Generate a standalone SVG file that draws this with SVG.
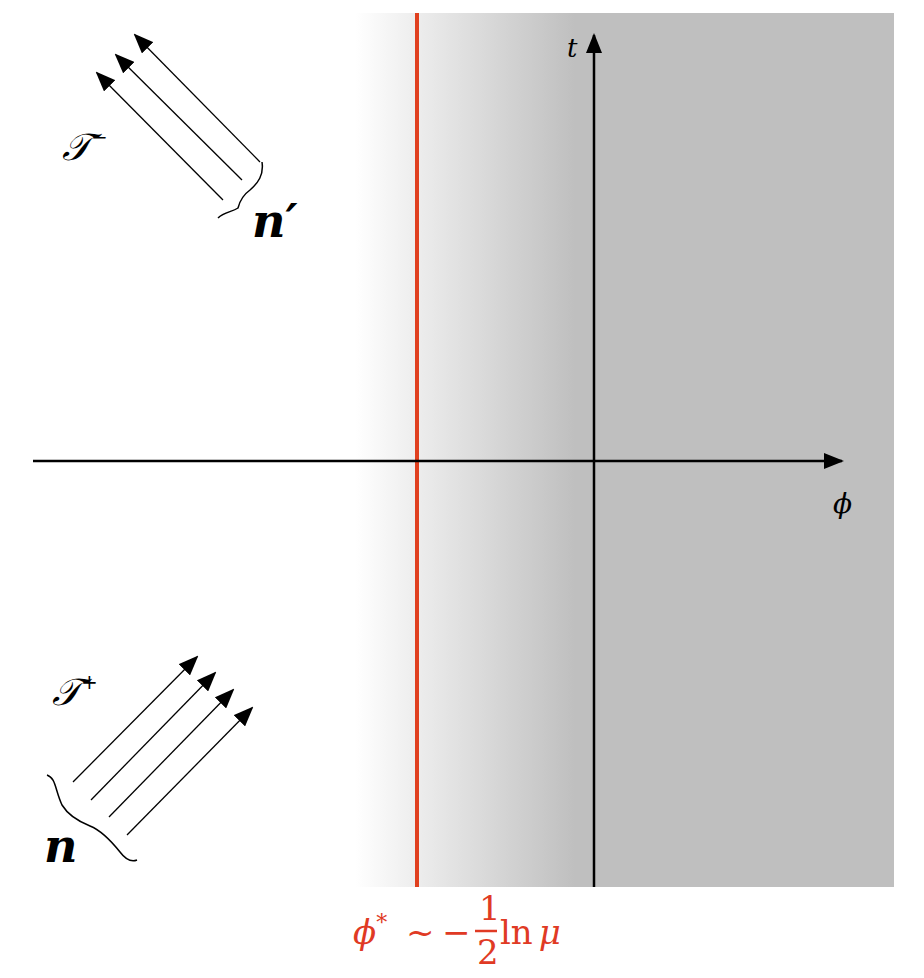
<svg xmlns="http://www.w3.org/2000/svg" width="924" height="978" viewBox="0 0 924 978">
<defs>
<linearGradient id="g" x1="355" x2="575" y1="0" y2="0" gradientUnits="userSpaceOnUse">
<stop offset="0" stop-color="#ffffff"/><stop offset="1" stop-color="#bfbfbf"/></linearGradient>
<marker id="a" markerWidth="10" markerHeight="10" refX="9" refY="5" orient="auto" markerUnits="userSpaceOnUse"><path d="M0,0 L10,5 L0,10 z" fill="#000"/></marker>
<marker id="b" markerWidth="20" markerHeight="16" refX="18" refY="8" orient="auto" markerUnits="userSpaceOnUse"><path d="M0,0 L20,8 L0,16 z" fill="#000"/></marker>
<style>
.ax{stroke:#000;stroke-width:2.5;fill:none}
.ray{stroke:#000;stroke-width:1.3;fill:none}
.br{stroke:#000;stroke-width:1.5;fill:none}
.m{font-family:"DejaVu Serif",serif;font-style:italic;fill:#000}
.r{font-family:"DejaVu Serif",serif;fill:#e03a24;font-size:34px}
</style>
</defs>
<rect x="355" y="13" width="539" height="874" fill="url(#g)"/>
<line x1="417" y1="13" x2="417" y2="887" stroke="#e0401f" stroke-width="4"/>
<g id="connectors">
<line class="ax" x1="33" y1="461" x2="842" y2="461" marker-end="url(#b)"/>
<line class="ax" x1="594" y1="887" x2="594" y2="35" marker-end="url(#b)"/>
<g id="outgoing">
<line class="ray" x1="223" y1="200" x2="97" y2="73" marker-end="url(#b)"/>
<line class="ray" x1="242" y1="180" x2="116" y2="55" marker-end="url(#b)"/>
<line class="ray" x1="260" y1="162" x2="135" y2="35" marker-end="url(#b)"/>
</g>
<g id="incoming">
<line class="ray" x1="73" y1="782" x2="197" y2="657" marker-end="url(#b)"/>
<line class="ray" x1="91" y1="800" x2="215" y2="673" marker-end="url(#b)"/>
<line class="ray" x1="109" y1="817" x2="233" y2="690" marker-end="url(#b)"/>
<line class="ray" x1="127" y1="835" x2="252" y2="708" marker-end="url(#b)"/>
</g>
</g>
<g id="brace-top"><path class="br" d="M218,218 C224,212 232,212 238,208 C240,200 243,195 250,190 C258,183 264,175 262,162"/></g>
<g id="brace-bottom"><path class="br" d="M47,775 C56,778 55,790 62,805 C68,815 80,822 90,826 C100,830 112,842 120,852 C126,860 132,862 137,860"/></g>
<g id="labels">
<text class="m" x="567" y="57" font-size="26">t</text>
<text class="m" x="833" y="513" font-size="28">ϕ</text>
<text x="62" y="160" font-family="'DejaVu Serif',serif" font-style="italic" font-size="38">𝒯<tspan font-size="20" dy="-16">−</tspan></text>
<text x="52" y="705" font-family="'DejaVu Serif',serif" font-style="italic" font-size="38">𝒯<tspan font-size="20" dy="-16">+</tspan></text>
<text class="m" x="252" y="237" font-size="46" font-weight="bold">n′</text>
<text class="m" x="44" y="862" font-size="46" font-weight="bold">n</text>
</g>
<g id="formula">
<text class="r" x="353" y="944" font-style="italic">ϕ<tspan font-size="22" dy="-14" font-style="normal">*</tspan></text>
<text class="r" x="406" y="944">~</text>
<text class="r" x="442" y="944">−</text>
<text class="r" x="479" y="920" font-size="30">1</text>
<line x1="475" y1="931" x2="497" y2="931" stroke="#e03a24" stroke-width="2.5"/>
<text class="r" x="477" y="964" font-size="30">2</text>
<text class="r" x="500" y="944">ln<tspan font-style="italic" dx="6">μ</tspan></text>
</g>
</svg>
